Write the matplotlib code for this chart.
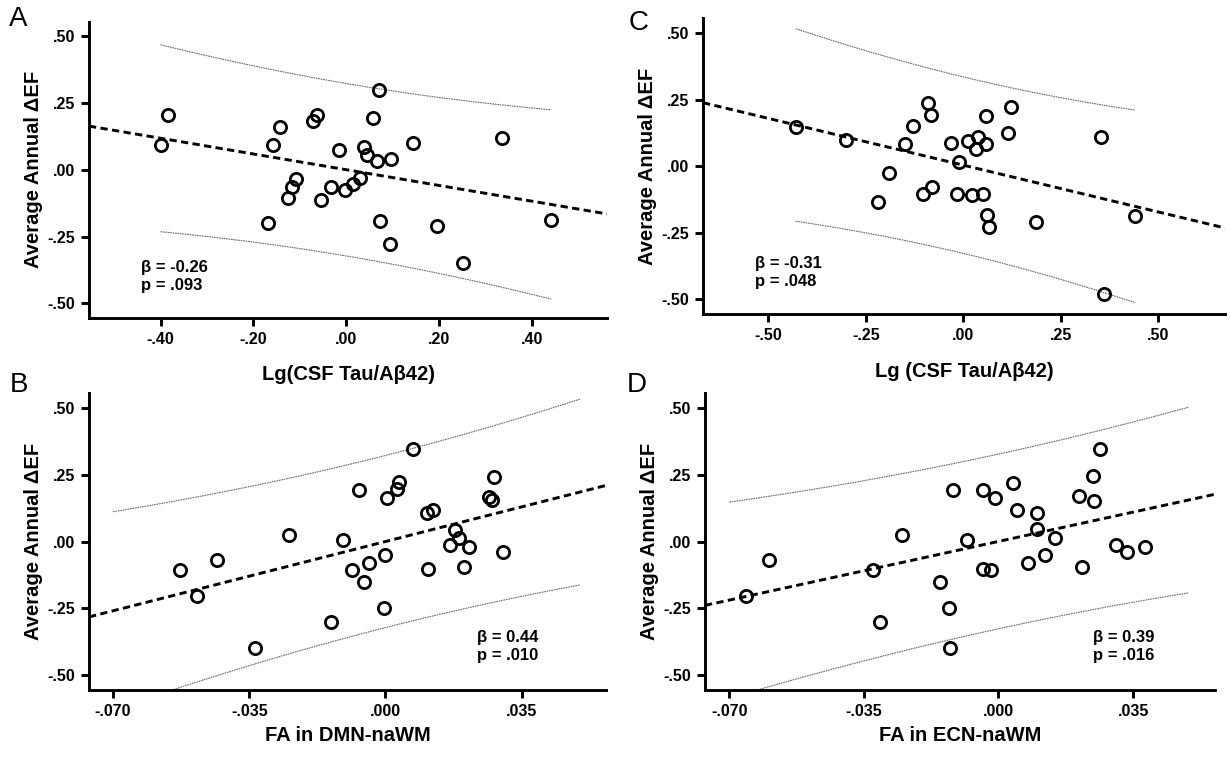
import numpy as np
import matplotlib
matplotlib.use("Agg")
import matplotlib.pyplot as plt
from matplotlib.ticker import FuncFormatter

plt.rcParams['font.family'] = ['Liberation Sans', 'DejaVu Sans']
plt.rcParams['font.weight'] = 'bold'
plt.rcParams['axes.labelweight'] = 'bold'

# panel A: Lg(CSF Tau/Ab42) vs annual change in EF
a_x = [-0.400, -0.383, -0.169, -0.157, -0.142, -0.126, -0.116, -0.108, -0.072, -0.063,
       -0.054, -0.034, -0.015, -0.002, 0.014, 0.029, 0.037, 0.044, 0.058, 0.065,
       0.070, 0.072, 0.093, 0.097, 0.143, 0.195, 0.252, 0.336, 0.441]
a_y = [0.091, 0.204, -0.198, 0.091, 0.160, -0.105, -0.066, -0.034, 0.181, 0.204,
       -0.115, -0.066, 0.073, -0.075, -0.054, -0.031, 0.084, 0.056, 0.194, 0.031,
       0.300, -0.191, -0.278, 0.040, 0.100, -0.209, -0.348, 0.119, -0.188]

# panel C
c_x = [-0.430, -0.302, -0.218, -0.191, -0.150, -0.130, -0.103, -0.091, -0.084, -0.080,
       -0.033, -0.016, -0.011, 0.011, 0.023, 0.032, 0.038, 0.050, 0.058, 0.057,
       0.060, 0.066, 0.115, 0.123, 0.186, 0.352, 0.361, 0.439]
c_y = [0.148, 0.098, -0.136, -0.026, 0.083, 0.150, -0.103, 0.239, 0.194, -0.078,
       0.088, -0.103, 0.016, 0.096, -0.109, 0.063, 0.108, -0.105, 0.083, 0.190,
       -0.184, -0.230, 0.126, 0.223, -0.208, 0.109, -0.481, -0.186]

# panel B: FA in DMN-naWM
b_x = [-0.0527, -0.0485, -0.0432, -0.0334, -0.0247, -0.0139, -0.0110, -0.0086, -0.0068, -0.0054,
       -0.0043, -0.0004, -0.0001, 0.0004, 0.0029, 0.0034, 0.0070, 0.0107, 0.0109, 0.0123,
       0.0167, 0.0179, 0.0189, 0.0201, 0.0215, 0.0267, 0.0274, 0.0278, 0.0302]
b_y = [-0.106, -0.204, -0.070, -0.398, 0.026, -0.300, 0.004, -0.105, 0.192, -0.151,
       -0.082, -0.249, -0.050, 0.161, 0.195, 0.223, 0.345, 0.108, -0.103, 0.117,
       -0.012, 0.042, 0.012, -0.096, -0.020, 0.168, 0.155, 0.242, -0.040]

# panel D: FA in ECN-naWM
d_x = [-0.0656, -0.0597, -0.0326, -0.0307, -0.0250, -0.0152, -0.0128, -0.0127, -0.0118, -0.0083,
       -0.0041, -0.0039, -0.0019, -0.0008, 0.0037, 0.0049, 0.0077, 0.0100, 0.0101, 0.0122,
       0.0147, 0.0210, 0.0218, 0.0246, 0.0249, 0.0265, 0.0305, 0.0334, 0.0382]
d_y = [-0.204, -0.070, -0.107, -0.300, 0.026, -0.151, -0.249, -0.397, 0.192, 0.004,
       -0.104, 0.194, -0.106, 0.162, 0.220, 0.117, -0.082, 0.108, 0.045, -0.050,
       0.014, 0.169, -0.096, 0.243, 0.152, 0.345, -0.012, -0.040, -0.020]

y_ticks = [-0.50, -0.25, 0.00, 0.25, 0.50]
a_ticks = [-0.40, -0.20, 0.00, 0.20, 0.40]
c_ticks = [-0.50, -0.25, 0.00, 0.25, 0.50]
fa_ticks = [-0.070, -0.035, 0.000, 0.035]

y_label = "Average Annual ΔEF"
stats = {"A": ("β = -0.26", "p = .093"), "B": ("β = 0.44", "p = .010"),
         "C": ("β = -0.31", "p = .048"), "D": ("β = 0.39", "p = .016")}

T_CRIT = 2.052  # t(0.975, ~27 df)
W, H = 1230, 760


def spss_fmt(dec):
  return FuncFormatter(lambda v, pos: f"{v:.{dec}f}".replace("0.", ".", 1))


def px_axes(fig, left, top, right, bottom):
  return fig.add_axes([left / W, 1 - bottom / H, (right - left) / W, (bottom - top) / H])


def panel(ax, x, y, xlim, xticks, xdec, xlabel, ci_range, key, text_pos, xpad):
  x = np.asarray(x)
  y = np.asarray(y)
  n = len(x)
  slope, icpt = np.polyfit(x, y, 1)
  resid = y - (icpt + slope * x)
  s = np.sqrt(np.sum(resid ** 2) / (n - 2))
  sxx = np.sum((x - x.mean()) ** 2)

  # 95% prediction band over the given x range
  xs = np.linspace(ci_range[0], ci_range[1], 100)
  half = T_CRIT * s * np.sqrt(1 + 1 / n + (xs - x.mean()) ** 2 / sxx)
  fit = icpt + slope * xs
  ax.plot(xs, fit + half, color='#6a6a6a', lw=0.8, ls=(0, (1.5, 0.7)))
  ax.plot(xs, fit - half, color='#6a6a6a', lw=0.8, ls=(0, (1.5, 0.7)))

  xl = np.array(xlim)
  ax.plot(xl, icpt + slope * xl, color='black', lw=2.1, ls=(0, (2.5, 1.5)))
  ax.plot(x, y, 'o', ms=8.8, mfc='none', mec='black', mew=2.0)

  ax.set_xlim(*xlim)
  ax.set_ylim(-0.555, 0.555)
  ax.set_xticks(xticks)
  ax.set_yticks(y_ticks)
  ax.xaxis.set_major_formatter(spss_fmt(xdec))
  ax.yaxis.set_major_formatter(spss_fmt(2))
  for side in ['top', 'right']:
    ax.spines[side].set_visible(False)
  for side in ['left', 'bottom']:
    ax.spines[side].set_linewidth(2.1)
  ax.tick_params(direction='out', length=6, width=2.1, labelsize=11.5, pad=4)
  ax.set_xlabel(xlabel, fontsize=14.5, fontweight='bold', labelpad=xpad)
  ax.set_ylabel(y_label, fontsize=14.5, fontweight='bold', labelpad=3)

  b_txt, p_txt = stats[key]
  ax.text(text_pos[0], text_pos[1], b_txt + "\n" + p_txt, transform=ax.transAxes,
          fontsize=12, va='center', ha='left', linespacing=1.3)


fig = plt.figure(figsize=(W / 100, H / 100), dpi=100)

ax_a = px_axes(fig, 89, 21.5, 607, 318)
panel(ax_a, a_x, a_y, (-0.554, 0.561), a_ticks, 2, "Lg(CSF Tau/Aβ42)",
      (min(a_x), max(a_x)), "A", (0.10, 0.14), 13)

ax_c = px_axes(fig, 703, 18.5, 1225, 314)
panel(ax_c, c_x, c_y, (-0.668, 0.671), c_ticks, 2, "Lg (CSF Tau/Aβ42)",
      (min(c_x), max(c_x)), "C", (0.10, 0.14), 14)

ax_b = px_axes(fig, 89, 393, 606, 690)
panel(ax_b, b_x, b_y, (-0.0762, 0.0567), fa_ticks, 3, "FA in DMN-naWM",
      (-0.070, 0.050), "B", (0.75, 0.147), 5)

ax_d = px_axes(fig, 705, 393, 1215, 690)
panel(ax_d, d_x, d_y, (-0.0763, 0.0563), fa_ticks, 3, "FA in ECN-naWM",
      (-0.070, 0.0495), "D", (0.76, 0.147), 5)

for letter, lx, ly in [("A", 9, 6), ("C", 629, 10), ("B", 10, 372), ("D", 627, 372)]:
  fig.text(lx / W, 1 - ly / H, letter, fontsize=20, fontweight='normal', va='top', ha='left')

fig.savefig("out.png", dpi=100, facecolor='white')
